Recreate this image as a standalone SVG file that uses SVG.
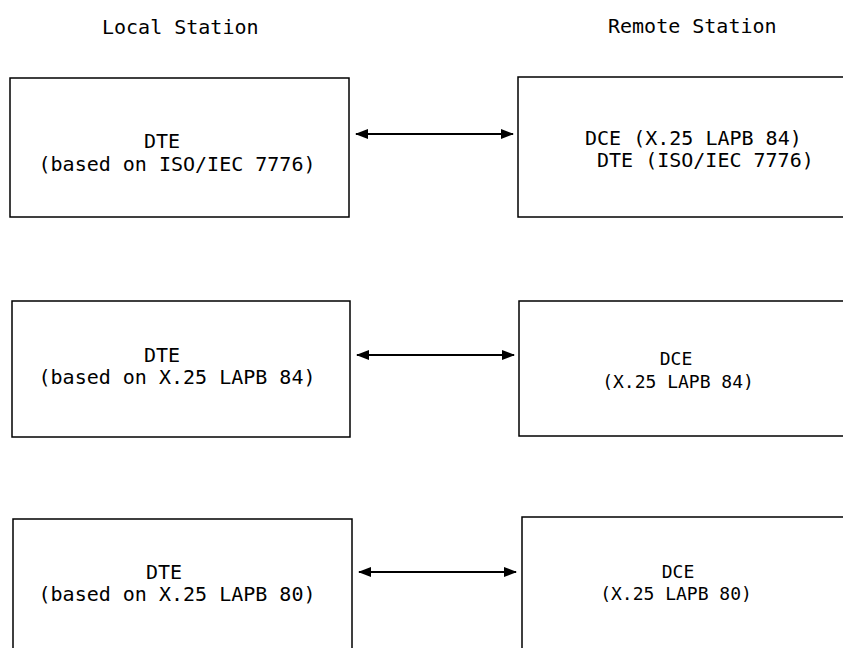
<svg xmlns="http://www.w3.org/2000/svg" width="843" height="648" viewBox="0 0 843 648">
<defs>
<style>
.box{fill:none;stroke:#000;stroke-width:1.5}
.t{font-family:"DejaVu Sans Mono","Liberation Mono",monospace;font-size:20px;fill:#000}
.ts{font-family:"DejaVu Sans Mono","Liberation Mono",monospace;font-size:18px;fill:#000}
.c{stroke:#000;stroke-width:2;fill:none;marker-start:url(#ah);marker-end:url(#ah)}
</style>
<marker id="ah" viewBox="0 0 13 10" refX="12" refY="5" markerWidth="13" markerHeight="10" markerUnits="userSpaceOnUse" orient="auto-start-reverse">
<path d="M0,0 L13,5 L0,10 Z" fill="#000"/>
</marker>
</defs>
<text class="t" x="102" y="34">Local Station</text>
<text class="t" x="608" y="33">Remote Station</text>
<g id="local1">
<rect class="box" x="10" y="78" width="339" height="139"/>
<text class="t" x="162" y="148" text-anchor="middle">DTE</text>
<text class="t" x="177" y="171" text-anchor="middle">(based on ISO/IEC 7776)</text>
</g>
<g id="remote1">
<rect class="box" x="518" y="77" width="340" height="140"/>
<text class="t" x="585" y="145">DCE (X.25 LAPB 84)</text>
<text class="t" x="597" y="167">DTE (ISO/IEC 7776)</text>
</g>
<g id="local2">
<rect class="box" x="12" y="301" width="338" height="136"/>
<text class="t" x="162" y="362" text-anchor="middle">DTE</text>
<text class="t" x="177" y="384" text-anchor="middle">(based on X.25 LAPB 84)</text>
</g>
<g id="remote2">
<rect class="box" x="519" y="301" width="340" height="135"/>
<text class="ts" x="676" y="365" text-anchor="middle">DCE</text>
<text class="ts" x="678" y="388" text-anchor="middle">(X.25 LAPB 84)</text>
</g>
<g id="local3">
<rect class="box" x="13" y="519" width="339" height="150"/>
<text class="t" x="164" y="579" text-anchor="middle">DTE</text>
<text class="t" x="177" y="601" text-anchor="middle">(based on X.25 LAPB 80)</text>
</g>
<g id="remote3">
<rect class="box" x="522" y="517" width="340" height="150"/>
<text class="ts" x="678" y="578" text-anchor="middle">DCE</text>
<text class="ts" x="676" y="600" text-anchor="middle">(X.25 LAPB 80)</text>
</g>
<g id="connectors">
<line class="c" x1="356" y1="134" x2="513" y2="134"/>
<line class="c" x1="357" y1="355" x2="514" y2="355"/>
<line class="c" x1="359" y1="572" x2="516" y2="572"/>
</g>
</svg>
